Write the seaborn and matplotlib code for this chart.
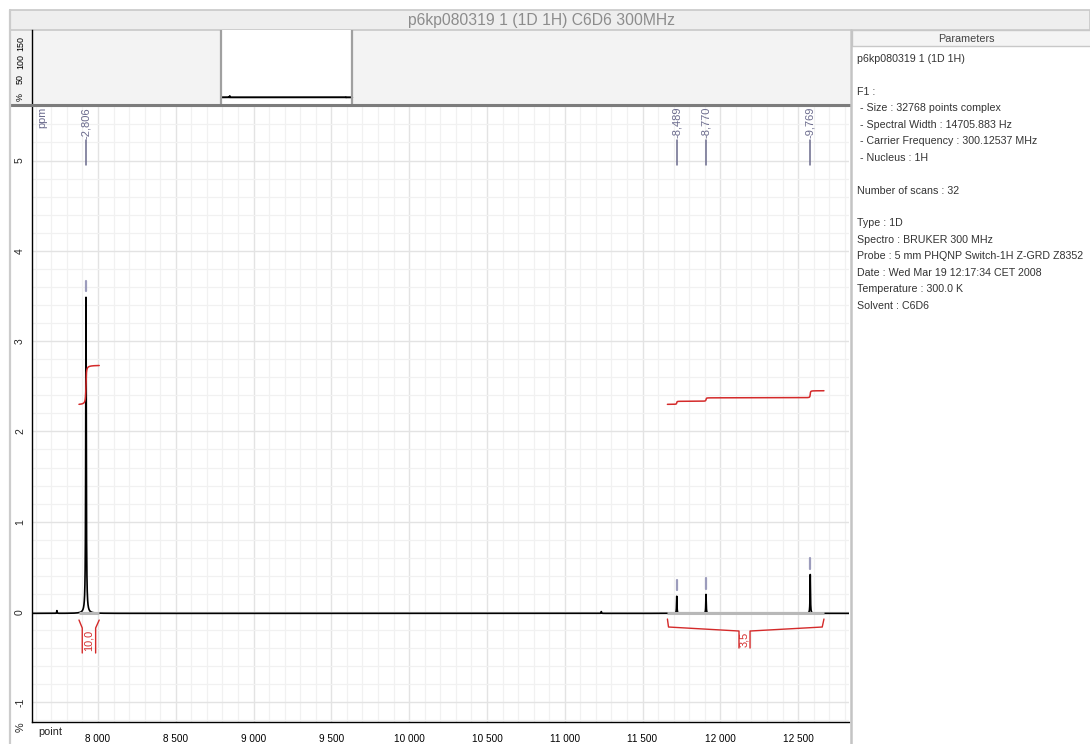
import numpy as np
import pandas as pd
import matplotlib
matplotlib.use("Agg")
import matplotlib.pyplot as plt
import matplotlib.transforms as mtransforms
from matplotlib.patches import Rectangle
from matplotlib.ticker import MultipleLocator, FuncFormatter
import seaborn as sns

# ---------------- data ----------------
title = "p6kp080319 1 (1D 1H) C6D6 300MHz"

peak_points = [7923, 11720, 11908, 12578]        # point index of each peak
peak_heights = [3.50, 0.19, 0.21, 0.43]          # intensity (%)
peak_hwhm = [2.2, 1.6, 1.6, 1.6]                 # half width (points)
peak_labels = ["-2,806", "-8,489", "-8,770", "-9,769"]   # ppm

small_points = [7736, 11235]
small_heights = [0.03, 0.02]
baseline_level = -0.015

integral_ranges = [(7878, 8008), (11660, 12666)]
integral_values = [10.0, 3.5]
integral_offsets = [2.30, 2.30]
integral_scale = 0.043          # curve rise per integral unit
integral_labels = ["10,0", "3,5"]

x_range = (7576, 12827)
total_points = 32768

overview_ticks = [0, 50, 100, 150]
overview_tick_labels = ["%", "50", "100", "150"]
y_major = [-1, 0, 1, 2, 3, 4, 5]

param_lines = [
    "p6kp080319 1 (1D 1H)",
    "",
    "F1 :",
    " - Size : 32768 points complex",
    " - Spectral Width : 14705.883 Hz",
    " - Carrier Frequency : 300.12537 MHz",
    " - Nucleus : 1H",
    "",
    "Number of scans : 32",
    "",
    "Type : 1D",
    "Spectro : BRUKER 300 MHz",
    "Probe : 5 mm PHQNP Switch-1H Z-GRD Z8352",
    "Date : Wed Mar 19 12:17:34 CET 2008",
    "Temperature : 300.0 K",
    "Solvent : C6D6",
]

# ---------------- spectrum ----------------
pts = np.arange(x_range[0], x_range[1] + 1, 0.5)
inten = np.full_like(pts, baseline_level, dtype=float)
for p, h, w in zip(peak_points, peak_heights, peak_hwhm):
    inten += h / (1 + ((pts - p) / w) ** 2)
for p, h in zip(small_points, small_heights):
    inten += h / (1 + ((pts - p) / 1.5) ** 2)
spec = pd.DataFrame({"point": pts, "intensity": inten})

sns.set_style("white")
plt.rcParams["font.family"] = ["Liberation Sans", "DejaVu Sans"]

W, H = 1090, 744
fig = plt.figure(figsize=(W / 100, H / 100), dpi=100)


def px_axes(x0, y0, x1, y1, **kw):
    return fig.add_axes([x0 / W, 1 - y1 / H, (x1 - x0) / W, (y1 - y0) / H], **kw)


# background chrome
bg = px_axes(0, 0, W, H, zorder=0)
bg.set_xlim(0, W)
bg.set_ylim(H, 0)
bg.axis("off")
bg.add_patch(Rectangle((10, 30), 840, 75, facecolor="#f3f3f3", edgecolor="none"))
bg.add_patch(Rectangle((10, 10), 1080, 20, facecolor="#eeeeee", edgecolor="#c8c8c8", lw=1.2))
bg.text(541, 20.5, title, ha="center", va="center", fontsize=11.3, color="#8c8c8c")

# ---------------- overview strip ----------------
ov = px_axes(32, 30, 850, 104, zorder=2)
ov.set_facecolor("none")
ov.set_xlim(0, total_points)
ov.set_ylim(-18.6, 187)
ov.add_patch(Rectangle((x_range[0], -18.6), x_range[1] - x_range[0], 205.6,
                       facecolor="white", edgecolor="none", zorder=0))
for xb in x_range:
    ov.axvline(xb, color="#a0a0a0", lw=1.6, zorder=3)
sns.lineplot(data=spec, x="point", y="intensity", ax=ov, color="black",
             lw=1.4, estimator=None, zorder=2)
ov.set_xlabel("")
ov.set_ylabel("")
ov.set_xticks([])
ov.set_yticks(overview_ticks, labels=overview_tick_labels, rotation=90,
              ha="center", va="center", fontsize=6.4)
ov.tick_params(axis="y", direction="out", length=5, width=0.9, pad=3.2, colors="black")
for s in ["top", "right", "bottom"]:
    ov.spines[s].set_visible(False)
ov.spines["left"].set_color("black")
ov.spines["left"].set_linewidth(1)

# ---------------- main spectrum ----------------
ax = px_axes(32, 105, 849, 722, zorder=3)
ax.set_facecolor("white")
ymin, ymax = -1.218, 5.615
ax.set_xlim(*x_range)
ax.set_ylim(ymin, ymax)

ax.xaxis.set_major_locator(MultipleLocator(500))
ax.xaxis.set_minor_locator(MultipleLocator(100))
ax.yaxis.set_minor_locator(MultipleLocator(0.2))
ax.xaxis.set_major_formatter(FuncFormatter(lambda v, _: f"{int(v):,}".replace(",", " ")))
ax.set_yticks(y_major, labels=[str(v) for v in y_major], rotation=90,
              ha="center", va="center", fontsize=7.5)
ax.grid(which="major", color="#e3e3e3", lw=1.0, zorder=0)
ax.grid(which="minor", color="#f1f1f1", lw=0.9, zorder=0)
ax.set_axisbelow(True)
ax.tick_params(axis="x", which="major", direction="out", length=6, width=0.9,
               labelsize=7.2, pad=3, colors="black")
ax.tick_params(axis="x", which="minor", direction="out", length=4, width=0.9)
ax.tick_params(axis="y", which="major", direction="out", length=6, width=0.9, pad=2.6)
ax.tick_params(axis="y", which="minor", direction="out", length=3.5, width=0.9)
for s in ["top", "right"]:
    ax.spines[s].set_visible(False)
for s in ["left", "bottom"]:
    ax.spines[s].set_color("black")
    ax.spines[s].set_linewidth(1)

sns.lineplot(data=spec, x="point", y="intensity", ax=ax, color="black",
             lw=1.2, estimator=None, zorder=3)
ax.set_xlabel("")
ax.set_ylabel("")

# integrated regions: grey baseline, integral curves and brackets
red = "#d42a2a"
to_data = lambda ypx: (612 - ypx) / 90.3
for (a, b), val, off in zip(integral_ranges, integral_values, integral_offsets):
    ax.plot([a, b], [baseline_level, baseline_level], color="#b8b8b8", lw=2.2,
            zorder=4, solid_capstyle="butt")
    m = (spec["point"] >= a) & (spec["point"] <= b)
    seg = spec[m]
    cum = np.cumsum(seg["intensity"].values - baseline_level)
    cum = cum / cum[-1]
    sns.lineplot(x=seg["point"].values, y=off + cum * val * integral_scale, ax=ax,
                 color=red, lw=1.1, estimator=None, zorder=5)

# bracket under the left integral
lb = [7878, 7899, 7985, 8008]
ax.plot([lb[0], lb[1], lb[1]], [to_data(620), to_data(628), to_data(653)], color=red, lw=1, zorder=5)
ax.plot([lb[3], lb[2], lb[2]], [to_data(620), to_data(628), to_data(653)], color=red, lw=1, zorder=5)
ax.text((lb[1] + lb[2]) / 2, to_data(640), integral_labels[0], rotation=90,
        ha="center", va="center", fontsize=7.8, color=red, zorder=5)

# bracket under the right integral
rb = [11660, 11667, 12120, 12191, 12655, 12666]
ax.plot([rb[0], rb[1], rb[2], rb[2]],
        [to_data(619), to_data(627), to_data(631), to_data(648)], color=red, lw=1, zorder=5)
ax.plot([rb[5], rb[4], rb[3], rb[3]],
        [to_data(619), to_data(627), to_data(631), to_data(648)], color=red, lw=1, zorder=5)
ax.text((rb[2] + rb[3]) / 2, to_data(639), integral_labels[1], rotation=90,
        ha="center", va="center", fontsize=7.8, color=red, zorder=5)

# peak picks: small marks above the peaks and labels along the top
mark_col = "#9c9cbc"
trans = mtransforms.blended_transform_factory(ax.transData, ax.transAxes)
for p, h, lab in zip(peak_points, peak_heights, peak_labels):
    ax.plot([p, p], [h + 0.05, h + 0.17], color=mark_col, lw=1.6, zorder=5)
    ax.plot([p, p], [0.9027, 0.9433], color="#6a6a8c", lw=1.1, transform=trans, zorder=5)
    ax.text(p, 0.9968, lab, rotation=90, ha="center", va="top", fontsize=8,
            color="#6a6a8c", transform=trans, zorder=5)
ax.text(0.0125, 0.9968, "ppm", rotation=90, ha="center", va="top", fontsize=7.8,
        color="#6a6a8c", transform=ax.transAxes, zorder=5)

fig.text(38 / W, 1 - 732 / H, "point", ha="left", va="center", fontsize=7.8)
fig.text(21 / W, 1 - 727 / H, "%", ha="center", va="center", fontsize=7.8, rotation=90)

# ---------------- parameters panel ----------------
pp = px_axes(850, 30, W, H, zorder=4)
pp.set_xlim(850, W)
pp.set_ylim(H, 30)
pp.axis("off")
pp.add_patch(Rectangle((852, 30), 250, 16, facecolor="#f4f4f4", edgecolor="#c8c8c8", lw=1))
pp.text(966, 38.5, "Parameters", ha="center", va="center", fontsize=7.8, color="#444444")
for i, line in enumerate(param_lines):
    if line:
        pp.text(857, 59 + i * 16.45, line, ha="left", va="center", fontsize=7.7,
                color="#333333")

# overlay frame lines
ov2 = px_axes(0, 0, W, H, zorder=10)
ov2.set_xlim(0, W)
ov2.set_ylim(H, 0)
ov2.axis("off")
ov2.patch.set_alpha(0)
ov2.plot([10, 850], [105, 105], color="#7c7c7c", lw=2.2)
ov2.plot([10, 10], [10, H], color="#cccccc", lw=1.6)
ov2.plot([851, 851], [30, H], color="#c4c4c4", lw=1.8)

fig.savefig("out.png", dpi=100)
